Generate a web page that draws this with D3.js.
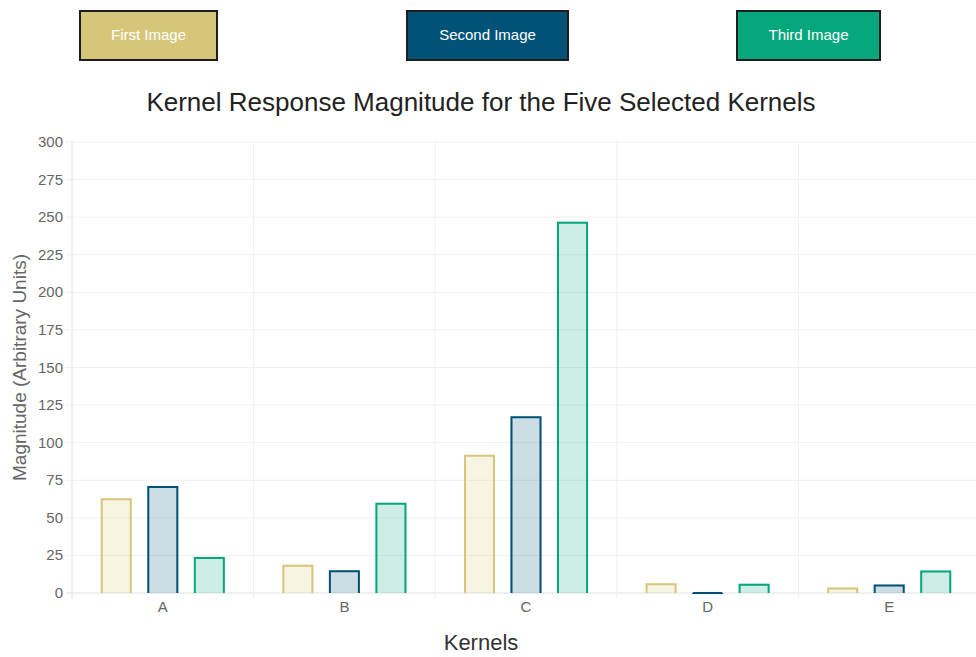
<!DOCTYPE html>
<html><head><meta charset="utf-8">
<script src="https://cdn.jsdelivr.net/npm/d3@7"></script>
<style>
html,body{margin:0;padding:0;background:#fff;overflow:hidden}
svg{display:block}
svg text{font-family:"Liberation Sans",Arial,Helvetica,sans-serif}
</style></head>
<body>
<svg id="chart" width="976" height="657"></svg>
<script>
const categories = ["A","B","C","D","E"];
const seriesNames = ["First Image","Second Image","Third Image"];
const seriesColors = ["#D5C67A","#005377","#06A77D"];
const firstImage  = [63, 18.8, 92, 6.5, 3.6];
const secondImage = [71.2, 15.2, 117.5, 0.6, 5.6];
const thirdImage  = [24, 60, 247, 6.2, 15];
const yTicks = [0,25,50,75,100,125,150,175,200,225,250,275,300];

(function(){
const seriesValues = [firstImage, secondImage, thirdImage];
const svg = d3.select("#chart");

// legend buttons
const buttons = [
  {x:79, w:139},{x:406, w:163},{x:736, w:145}
];
buttons.forEach((b,i)=>{
  svg.append("rect").attr("x",b.x+1).attr("y",11).attr("width",b.w-2).attr("height",49)
    .attr("fill",seriesColors[i]).attr("stroke","#1e1e1e").attr("stroke-width",2);
  svg.append("text").attr("x",b.x+b.w/2).attr("y",40).attr("text-anchor","middle")
    .attr("fill","#fff").attr("font-size",15).text(seriesNames[i]);
});

// title
svg.append("text").attr("x",481).attr("y",111).attr("text-anchor","middle")
  .attr("font-size",26).attr("fill","#222").text("Kernel Response Magnitude for the Five Selected Kernels");

const pL = 72, pR = 980, pT = 142, pB = 593;
const x0 = d3.scaleBand().domain(categories).range([pL,pR]).padding(0);
const y = d3.scaleLinear().domain([0,300]).range([pB,pT]);
const w = x0.bandwidth();
const x1 = d3.scaleBand().domain(d3.range(3)).range([w*0.073, w*0.927]).padding(1/3);

// horizontal grid
svg.append("g").selectAll("line").data(yTicks).join("line")
  .attr("x1",pL-6).attr("x2",pR).attr("y1",d=>y(d)).attr("y2",d=>y(d))
  .attr("stroke",d=>d===0?"#e0e0e0":"#f0f0f0").attr("stroke-width",1);
// vertical grid
const vlines = categories.map(c=>x0(c)).concat([pR]);
svg.append("g").selectAll("line").data(vlines).join("line")
  .attr("x1",d=>d).attr("x2",d=>d).attr("y1",pT).attr("y2",pB+6)
  .attr("stroke",(d,i)=>i===0?"#e0e0e0":"#f0f0f0").attr("stroke-width",1);

// y tick labels
svg.append("g").selectAll("text").data(yTicks).join("text")
  .attr("x",63).attr("y",d=>y(d)+5).attr("text-anchor","end")
  .attr("font-size",15).attr("fill","#666").text(d=>d);

// x tick labels
svg.append("g").selectAll("text").data(categories).join("text")
  .attr("x",d=>x0(d)+w/2).attr("y",612).attr("text-anchor","middle")
  .attr("font-size",15).attr("fill","#666").text(d=>d);

// bars
categories.forEach((c,ci)=>{
  seriesValues.forEach((vals,si)=>{
    const v = vals[ci];
    const bx = x0(c)+x1(si), bw = x1.bandwidth();
    const by = y(v), bh = y(0)-y(v);
    svg.append("rect").attr("x",bx).attr("y",by).attr("width",bw).attr("height",bh)
      .attr("fill",seriesColors[si]).attr("fill-opacity",0.2);
    const p = d3.path();
    p.moveTo(bx+1, y(0)); p.lineTo(bx+1, by+1); p.lineTo(bx+bw-1, by+1); p.lineTo(bx+bw-1, y(0));
    svg.append("path").attr("d",p.toString()).attr("fill","none")
      .attr("stroke",seriesColors[si]).attr("stroke-width",2);
  });
});

// axis titles
svg.append("text").attr("transform",`translate(26,${(pT+pB)/2}) rotate(-90)`)
  .attr("text-anchor","middle").attr("font-size",19).attr("fill","#666").text("Magnitude (Arbitrary Units)");
svg.append("text").attr("x",481).attr("y",650).attr("text-anchor","middle")
  .attr("font-size",22).attr("fill","#333").text("Kernels");
})();
</script>
</body></html>
